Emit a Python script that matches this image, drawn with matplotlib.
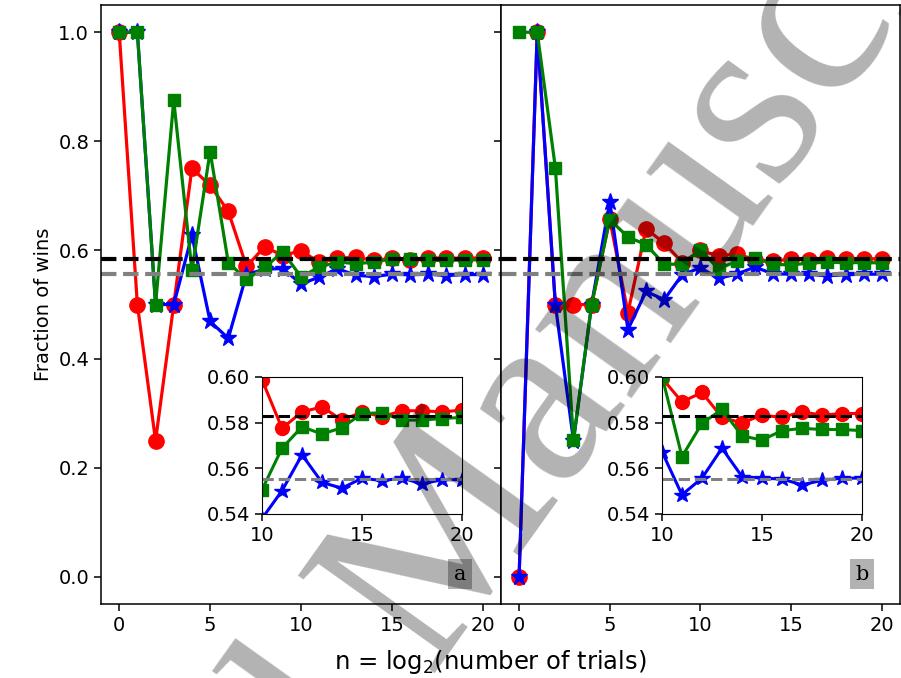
import matplotlib
matplotlib.use('Agg')
import matplotlib.pyplot as plt
import numpy as np

n = np.arange(21)

# panel a
red_a = [1.0, 0.5, 0.25, 0.5, 0.75, 0.719, 0.671, 0.570, 0.606, 0.590, 0.5988,
         0.5775, 0.5847, 0.5869, 0.5811, 0.5847, 0.5826, 0.5852, 0.5852, 0.5847, 0.5855]
blue_a = [1.0, 1.0, 0.5, 0.5, 0.627, 0.469, 0.438, 0.555, 0.565, 0.566, 0.538,
          0.5502, 0.5659, 0.5538, 0.5513, 0.5557, 0.5546, 0.5557, 0.5532, 0.555, 0.555]
green_a = [1.0, 1.0, 0.5, 0.875, 0.5625, 0.781, 0.577, 0.546, 0.568, 0.597, 0.5506,
           0.5688, 0.5782, 0.575, 0.5778, 0.584, 0.5843, 0.5811, 0.5811, 0.5818, 0.5823]

# panel b
red_b = [0.0, 1.0, 0.5, 0.5, 0.5, 0.657, 0.485, 0.639, 0.613, 0.577, 0.5995,
         0.5891, 0.5932, 0.5823, 0.5799, 0.5833, 0.5823, 0.5847, 0.5833, 0.584, 0.584]
blue_b = [0.0, 1.0, 0.5, 0.25, 0.5, 0.689, 0.454, 0.524, 0.509, 0.555, 0.5673,
          0.5484, 0.5557, 0.5688, 0.5564, 0.5557, 0.5553, 0.5528, 0.5547, 0.5557, 0.5557]
green_b = [1.0, 1.0, 0.751, 0.252, 0.5, 0.656, 0.624, 0.610, 0.574, 0.574, 0.6005,
           0.5651, 0.5797, 0.5858, 0.5742, 0.5724, 0.5765, 0.5775, 0.577, 0.577, 0.5765]

level_black = 0.583
level_grey = 0.5553

plt.rcParams['font.size'] = 14

fig = plt.figure(figsize=(9.01, 6.78), dpi=100)
ax1 = fig.add_axes([0.1121, 0.1091, 0.4440, 0.8835])
ax2 = fig.add_axes([0.5560, 0.1091, 0.4428, 0.8835], sharey=ax1)
in1 = fig.add_axes([0.2908, 0.2419, 0.2220, 0.2021])
in2 = fig.add_axes([0.7347, 0.2419, 0.2220, 0.2021])


def draw(ax, r, b, g, lw, ms, dlw):
    ax.plot(n, r, '-o', color='red', lw=lw, ms=ms)
    ax.plot(n, b, '-*', color='blue', lw=lw, ms=ms * 1.15)
    ax.plot(n, g, '-s', color='green', lw=lw, ms=ms * 0.85)
    ax.axhline(level_black, color='black', ls='--', lw=dlw)
    ax.axhline(level_grey, color='grey', ls='--', lw=dlw)


draw(ax1, red_a, blue_a, green_a, 2.3, 11, 3)
draw(ax2, red_b, blue_b, green_b, 2.3, 11, 3)
draw(in1, red_a, blue_a, green_a, 2.2, 10, 2.2)
draw(in2, red_b, blue_b, green_b, 2.2, 10, 2.2)

for ax in (ax1, ax2):
    ax.set_xlim(-1, 21)
    ax.set_xticks([0, 5, 10, 15, 20])
    for s in ax.spines.values():
        s.set_linewidth(1.1)
    ax.tick_params(length=5, width=1.1)
ax1.set_ylim(-0.05, 1.05)
ax1.set_yticks([0.0, 0.2, 0.4, 0.6, 0.8, 1.0])
ax2.tick_params(labelleft=False)
ax1.set_ylabel('Fraction of wins')

for ax in (in1, in2):
    ax.set_xlim(10, 20)
    ax.set_ylim(0.54, 0.60)
    ax.set_xticks([10, 15, 20])
    ax.set_yticks([0.54, 0.56, 0.58, 0.60])
    ax.tick_params(length=5, width=1.1)

ax1.text(0.8975, 0.05, 'a', transform=ax1.transAxes, ha='center', va='center',
         family='DejaVu Serif', fontsize=15,
         bbox=dict(facecolor='grey', alpha=0.6, edgecolor='none', pad=4))
ax2.text(0.905, 0.05, 'b', transform=ax2.transAxes, ha='center', va='center',
         family='DejaVu Serif', fontsize=15,
         bbox=dict(facecolor='grey', alpha=0.6, edgecolor='none', pad=4))

fig.text(490 / 901, 1 - 662 / 678, r'n = log$_2$(number of trials)',
         ha='center', va='center', fontsize=17.5)

# watermark
wm = dict(family='Liberation Serif', fontsize=184, color='black', alpha=0.3,
          rotation=54.5, rotation_mode='anchor', va='baseline', zorder=10)
fig.text(0.475, 0.0073, 'Manuscript', ha='left', **wm)
fig.text(0.434, -0.0693, 'Accepted', ha='right', **wm)

fig.savefig('out.png', dpi=100)
